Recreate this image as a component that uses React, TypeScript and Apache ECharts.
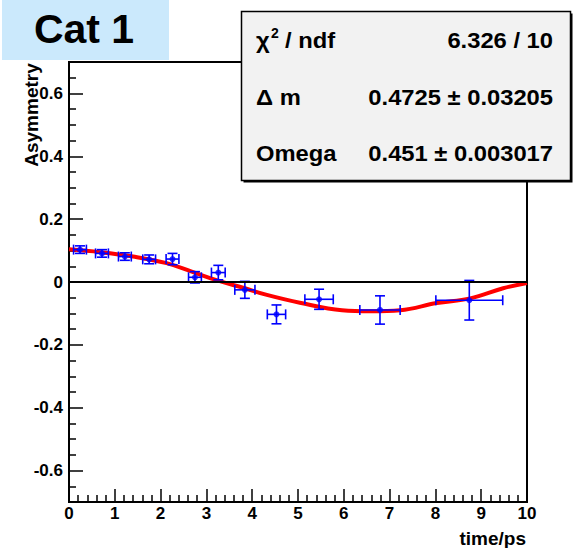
import React, { useEffect, useRef } from 'react';
import * as echarts from 'echarts';

// Data points (time, asymmetry, x error, y error)
const POINT_T = [0.24, 0.72, 1.22, 1.75, 2.26, 2.75, 3.26, 3.84, 4.53, 5.46, 6.79, 8.74];
const POINT_Y = [0.103, 0.091, 0.081, 0.072, 0.073, 0.015, 0.030, -0.025, -0.103, -0.055, -0.089, -0.058];
const POINT_XERR = [0.14, 0.14, 0.14, 0.14, 0.14, 0.14, 0.15, 0.22, 0.2, 0.31, 0.44, 0.73];
const POINT_YERR = [0.012, 0.012, 0.012, 0.014, 0.018, 0.018, 0.023, 0.027, 0.03, 0.032, 0.045, 0.063];

// Fit curve
const CURVE_T = [0, 0.68, 1.4, 2.13, 2.68, 3.22, 3.84, 4.32, 5.04, 5.96, 6.6, 7.23, 8.03, 8.76, 9.48, 10];
const CURVE_Y = [0.104, 0.095, 0.081, 0.06, 0.033, 0.006, -0.02, -0.041, -0.066, -0.09, -0.093, -0.09, -0.067, -0.052, -0.02, -0.003];

// Axis ticks
const Y_MAJOR = [-0.6, -0.4, -0.2, 0, 0.2, 0.4, 0.6];
const Y_MINOR = [-0.7, -0.65, -0.55, -0.5, -0.45, -0.35, -0.3, -0.25, -0.15, -0.1, -0.05, 0.05, 0.1, 0.15, 0.25, 0.3, 0.35, 0.45, 0.5, 0.55, 0.65, 0.7];

// Stats box
const STAT_LABELS = ['χ', 'Δ m', 'Omega'];
const STAT_VALUES = ['6.326 / 10', '0.4725 ± 0.03205', '0.451 ± 0.003017'];

const TITLE = 'Cat 1';
const X_TITLE = 'time/ps';
const Y_TITLE = 'Asymmetry';

const FONT = '"Liberation Sans", Arial, Helvetica, sans-serif';

export default function App() {
  const ref = useRef<HTMLDivElement>(null);
  useEffect(() => {
    const chart = echarts.init(ref.current!, null, { renderer: 'svg' });
    const pts = POINT_T.map((t, i) => [t, POINT_Y[i], POINT_XERR[i], POINT_YERR[i]]);
    const curve = CURVE_T.map((t, i) => [t, CURVE_Y[i]]);
    const rowY = [40, 97, 153];
    const sx = 1.08;
    const statTexts: any[] = [];
    STAT_LABELS.forEach((l, i) => {
      statTexts.push({
        type: 'text', x: 256, y: rowY[i], z: 102, scaleX: sx,
        style: { text: l, fill: '#000', font: `bold 22px ${FONT}`, textAlign: 'left', textVerticalAlign: 'middle' },
      });
      statTexts.push({
        type: 'text', x: 553, y: rowY[i], z: 102, scaleX: sx,
        style: { text: STAT_VALUES[i], fill: '#000', font: `bold 22px ${FONT}`, textAlign: 'right', textVerticalAlign: 'middle' },
      });
    });
    statTexts.push({
      type: 'text', x: 271, y: 33, z: 102,
      style: { text: '2', fill: '#000', font: `bold 14px ${FONT}`, textAlign: 'left', textVerticalAlign: 'middle' },
    });
    statTexts.push({
      type: 'text', x: 285, y: 40, z: 102, scaleX: sx,
      style: { text: '/ ndf', fill: '#000', font: `bold 22px ${FONT}`, textAlign: 'left', textVerticalAlign: 'middle' },
    });

    const option: any = {
      animation: false,
      backgroundColor: '#fff',
      grid: {
        left: 69, top: 62, right: 47, bottom: 46,
        show: true, borderColor: '#000', borderWidth: 2, backgroundColor: 'transparent',
      },
      xAxis: {
        type: 'value', min: 0, max: 10, interval: 1,
        axisLine: { show: true, onZero: false, lineStyle: { color: '#000', width: 2 } },
        axisTick: { show: true, inside: true, length: 13, lineStyle: { color: '#000', width: 1.5 } },
        minorTick: { show: true, splitNumber: 5, length: 7, lineStyle: { color: '#000', width: 1.5 } },
        axisLabel: { color: '#000', fontWeight: 'bold', fontSize: 17, fontFamily: FONT, margin: 3 },
        splitLine: { show: false },
      },
      yAxis: [
        {
          type: 'value', min: -0.7, max: 0.7,
          axisLine: { show: true, onZero: false, lineStyle: { color: '#000', width: 2 } },
          axisTick: { show: true, inside: true, length: 14, customValues: Y_MAJOR, lineStyle: { color: '#000', width: 1.5 } },
          axisLabel: {
            color: '#000', fontWeight: 'bold', fontSize: 17, fontFamily: FONT, margin: 6,
            customValues: Y_MAJOR,
            formatter: (v: number) => (Math.abs(v) < 1e-9 ? '0' : v.toFixed(1)),
          },
          splitLine: { show: false },
        },
        {
          type: 'value', min: -0.7, max: 0.7, position: 'left',
          axisLine: { show: false },
          axisTick: { show: true, inside: true, length: 7, customValues: Y_MINOR, lineStyle: { color: '#000', width: 1.5 } },
          axisLabel: { show: false },
          splitLine: { show: false },
        },
      ],
      series: [
        {
          type: 'line', data: [], z: 1, silent: true,
          markLine: {
            silent: true, symbol: 'none', label: { show: false },
            lineStyle: { color: '#000', width: 1.8, type: 'solid' },
            data: [{ yAxis: 0 }],
          },
        },
        {
          type: 'line', data: curve, smooth: 0.4, showSymbol: false, z: 3, silent: true,
          lineStyle: { color: '#ff0000', width: 4 },
        },
        {
          type: 'custom', data: pts, z: 4, silent: true,
          encode: { x: 0, y: 1 },
          renderItem: (params: any, api: any) => {
            const x = api.value(0), y = api.value(1), ex = api.value(2), ey = api.value(3);
            const l = api.coord([x - ex, y]);
            const r = api.coord([x + ex, y]);
            const t = api.coord([x, y + ey]);
            const b = api.coord([x, y - ey]);
            const cap = 5;
            const style = { stroke: '#0000ff', lineWidth: 1.6 };
            const ln = (x1: number, y1: number, x2: number, y2: number) => ({ type: 'line', shape: { x1, y1, x2, y2 }, style });
            return {
              type: 'group',
              children: [
                ln(l[0], l[1], r[0], r[1]),
                ln(t[0], t[1], b[0], b[1]),
                ln(l[0], l[1] - cap, l[0], l[1] + cap),
                ln(r[0], r[1] - cap, r[0], r[1] + cap),
                ln(t[0] - cap, t[1], t[0] + cap, t[1]),
                ln(b[0] - cap, b[1], b[0] + cap, b[1]),
              ],
            };
          },
        },
        {
          type: 'scatter', data: pts.map((p) => [p[0], p[1]]), z: 5, silent: true,
          symbol: 'circle', symbolSize: 6, itemStyle: { color: '#0000ff' },
        },
      ],
      graphic: [
        { type: 'rect', z: 100, shape: { x: 2, y: 0, width: 167, height: 60 }, style: { fill: '#cbe9fc' } },
        {
          type: 'text', x: 84, y: 29, z: 101,
          style: { text: TITLE, fill: '#000', font: `bold 41px ${FONT}`, textAlign: 'center', textVerticalAlign: 'middle' },
        },
        { type: 'rect', z: 99, shape: { x: 243.5, y: 13.5, width: 329, height: 169 }, style: { fill: '#000' } },
        { type: 'rect', z: 100, shape: { x: 241.5, y: 11.5, width: 329, height: 169 }, style: { fill: '#f2f2f2', stroke: '#000', lineWidth: 1.5 } },
        ...statTexts,
        {
          type: 'text', x: 526, y: 538, z: 101,
          style: { text: X_TITLE, fill: '#000', font: `bold 19px ${FONT}`, textAlign: 'right', textVerticalAlign: 'middle' },
        },
        {
          type: 'text', x: 31, y: 115, z: 101, rotation: Math.PI / 2,
          style: { text: Y_TITLE, fill: '#000', font: `bold 19px ${FONT}`, textAlign: 'center', textVerticalAlign: 'middle' },
        },
      ],
    };
    chart.setOption(option);
    return () => chart.dispose();
  }, []);
  return <div ref={ref} style={{ position: 'fixed', left: 0, top: 0, width: 574, height: 548, background: '#fff' }} />;
}
